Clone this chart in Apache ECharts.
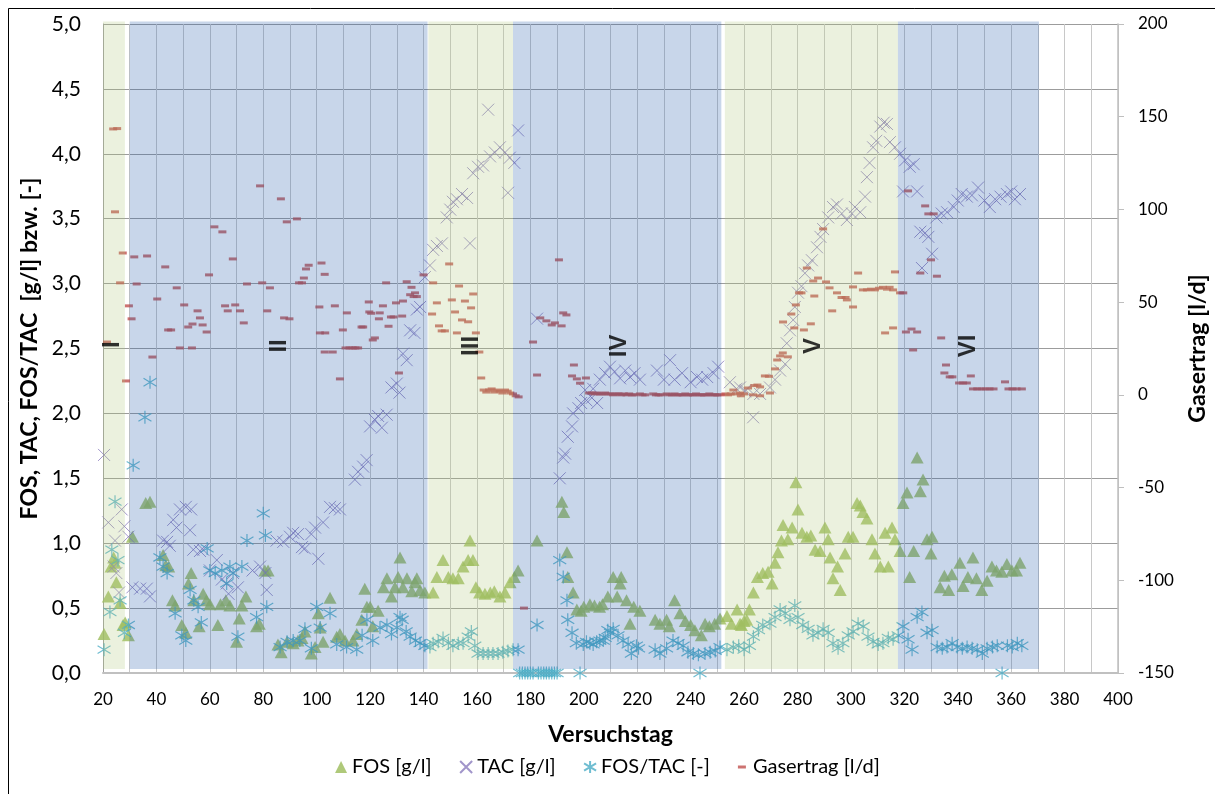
<!DOCTYPE html>
<html>
<head>
<meta charset="utf-8">
<script src="https://cdn.jsdelivr.net/npm/echarts@6/dist/echarts.min.js"></script>
<style>
  html, body { margin: 0; padding: 0; background: #fff; }
  #chart { width: 1215px; height: 794px; }
</style>
</head>
<body>
<div id="chart"></div>
<script>
var chart = echarts.init(document.getElementById('chart'));

// Versuchstag, Wert
var fos = [
  [20.4,0.30],[22,0.59],[23,0.82],[24,0.89],[24.5,0.85],[25,0.70],[26.4,0.54],[27.5,0.37],[28.3,0.39],[29.5,0.29],
  [31,1.05],[36,1.31],[37.6,1.32],[42.5,0.91],[43.5,0.83],[44.6,0.82],[46,0.56],[47,0.52],[49.5,0.37],[51,0.31],
  [52,0.69],[53,0.77],[54,0.56],[56,0.36],[57.5,0.61],[58.7,0.56],[60,0.53],[63,0.37],[64,0.53],[66,0.56],
  [67.5,0.52],[70,0.24],[71,0.42],[72,0.52],[73.5,0.59],[77.5,0.36],[78.5,0.38],[80.6,0.79],[81.8,0.79],[85.5,0.22],
  [86.7,0.16],[88.9,0.24],[91.2,0.23],[93,0.25],[94.5,0.27],[95.6,0.32],[98,0.15],[99.4,0.20],[100.6,0.46],[101.3,0.35],
  [102.4,0.24],[105,0.58],[107.5,0.28],[108.7,0.30],[110.6,0.25],[113.6,0.25],[115,0.30],[116.9,0.41],[118,0.65],[118.8,0.51],
  [120,0.51],[121,0.36],[123,0.48],[125,0.66],[126.3,0.73],[128,0.59],[129.3,0.66],[130.5,0.74],[131.2,0.89],[132.3,0.66],
  [133.8,0.73],[135.6,0.63],[136.8,0.70],[137.5,0.73],[138.7,0.64],[140.5,0.62],[143.6,0.62],[145,0.74],[147.3,0.87],[149.3,0.74],
  [151,0.73],[153,0.73],[154.8,0.82],[156.7,0.87],[157.4,1.02],[158.5,0.87],[159.6,0.66],[161,0.62],[163,0.61],[165,0.62],
  [166.5,0.63],[168.6,0.59],[170.5,0.62],[172.4,0.70],[174,0.74],[175.4,0.79],[182.5,1.02],[191.8,1.32],[192.5,1.24],[193.7,0.93],
  [194,0.74],[196,0.62],[197.4,0.49],[199,0.48],[200,0.51],[202.3,0.53],[204,0.52],[205.9,0.51],[207,0.53],[209,0.59],
  [211,0.74],[212.5,0.59],[213.6,0.69],[214,0.74],[216,0.56],[217.3,0.38],[218.7,0.51],[221,0.48],[226.7,0.41],[228.5,0.38],
  [231,0.41],[232,0.36],[234,0.56],[236,0.46],[238,0.40],[240,0.37],[241.6,0.33],[244,0.29],[245.4,0.38],[247,0.36],
  [249,0.38],[251,0.42],[253.6,0.44],[255.3,0.38],[257.4,0.49],[258.5,0.38],[259,0.37],[260,0.40],[261,0.41],[262,0.49],
  [263.5,0.62],[265,0.74],[267,0.77],[269,0.78],[270.5,0.69],[271.6,0.85],[272.7,0.93],[274,1.02],[274.6,1.14],[276.4,1.03],
  [278,1.12],[279.4,1.47],[280.2,1.26],[281.7,1.08],[283.5,1.05],[285,1.06],[286.6,0.95],[288.5,0.94],[290.3,1.12],[291.5,1.03],
  [292.2,0.89],[293.3,0.73],[295,0.82],[296,0.64],[297.8,0.92],[299,1.05],[300.8,1.05],[302.3,1.31],[303.5,1.29],[304.5,1.24],
  [306,1.19],[307.9,1.03],[309,0.92],[311,0.82],[312.8,1.08],[314,0.82],[315.4,1.12],[316.5,1.03],[318.4,0.94],[319.5,1.31],
  [321,1.39],[322,0.74],[323.5,0.94],[324.8,1.66],[326,1.40],[327,1.49],[328.5,1.03],[330,0.92],[330.4,1.05],[333.4,0.66],
  [335,0.75],[336.6,0.64],[337.8,0.76],[340.8,0.85],[342,0.67],[343.8,0.74],[345.7,0.89],[347,0.73],[349,0.64],[351,0.71],
  [352.8,0.82],[354.5,0.79],[356.5,0.78],[358.4,0.84],[360.3,0.79],[362,0.79],[363.3,0.85]
];

var tac = [
  [20.4,1.68],[22,1.16],[24,0.82],[24.5,1.02],[25,0.77],[26,0.62],[27,1.26],[28,1.13],[29.5,1.05],[31,0.66],
  [33.9,0.65],[36.4,0.65],[37.6,0.59],[42.5,1.02],[44,1.01],[45,0.98],[46.3,1.18],[47.5,1.12],[48.8,1.26],[51,1.28],
  [52.6,1.10],[53,1.26],[53.8,0.95],[56.3,0.94],[57.5,0.95],[60,0.79],[62.6,0.87],[64.5,0.72],[66.3,0.69],[67,0.61],
  [68.7,0.77],[70.5,0.66],[76,0.79],[78.8,0.82],[80.8,0.77],[81.3,0.64],[85,1.02],[87.5,1.01],[90,1.05],[91.2,1.08],
  [93,1.07],[94.5,0.97],[95.6,0.96],[98,1.07],[99.4,1.12],[100.6,0.88],[102.4,1.16],[105,1.28],[106.8,1.27],[108.7,1.26],
  [114.3,1.49],[115.5,1.55],[117.4,1.59],[118.7,1.64],[120,1.90],[121.8,1.95],[123,1.98],[124.4,1.89],[126.2,1.99],[128,2.20],
  [130,2.23],[131,2.16],[132.3,2.46],[133.7,2.41],[135,2.64],[136.6,2.62],[137.5,2.80],[138.7,2.82],[140.5,3.05],[142.4,3.14],
  [143.6,3.26],[145,3.29],[146.9,3.31],[148.7,3.51],[150,3.57],[151,3.63],[152.5,3.65],[154.4,3.69],[156.3,3.66],[157.4,3.31],
  [158.6,3.85],[160.4,3.90],[162.3,3.91],[164.2,4.34],[164.9,3.98],[166.7,4.01],[168.6,4.05],[170.5,4.01],[171.6,3.70],[172.3,3.97],
  [174,3.93],[175.4,4.18],[182.5,2.73],[191,1.50],[192.3,1.66],[193,1.69],[194,1.82],[195.6,1.90],[196,2.00],[198,2.04],
  [199,2.08],[200.5,2.18],[201,2.10],[203,2.12],[203.5,2.19],[205,2.08],[206,2.26],[208,2.31],[209.8,2.36],[211.5,2.32],
  [213.6,2.27],[215.5,2.33],[217.3,2.28],[219,2.31],[221,2.26],[227.4,2.33],[230,2.26],[232.3,2.41],[234,2.26],[236.8,2.31],
  [240,2.24],[242.4,2.28],[244.3,2.26],[246.2,2.28],[248.6,2.31],[250.3,2.36],[254.7,2.24],[257.2,2.19],[258.5,2.20],[260.4,2.17],
  [260.6,2.18],[263.4,1.97],[263.5,2.15],[266,2.15],[269.7,2.20],[271.6,2.26],[273.5,2.33],[275.4,2.38],[276,2.54],[277.2,2.64],
  [278.4,2.72],[279,2.82],[280.2,2.93],[281.5,2.98],[282.8,3.08],[284,3.14],[285.4,3.18],[287.3,3.28],[288.6,3.36],[289.6,3.42],
  [291.5,3.51],[293.3,3.59],[294.8,3.61],[296.6,3.54],[298.5,3.49],[300.4,3.54],[301.5,3.59],[303.5,3.55],[305.3,3.67],[306,3.82],
  [307,3.93],[308.3,4.05],[309.5,4.10],[311,4.21],[312.3,4.24],[313.5,4.23],[314.6,4.09],[316.5,4.05],[318.4,4.00],[319.5,3.71],
  [320.3,3.95],[322,3.90],[323.5,3.92],[324.8,3.71],[326,3.40],[326.6,3.12],[327.8,3.39],[329,3.36],[330.4,3.23],[332,3.51],
  [334,3.54],[336,3.55],[338.5,3.59],[340,3.64],[341.5,3.69],[343.4,3.67],[345.3,3.68],[347.6,3.74],[350,3.64],[352,3.59],
  [354,3.65],[356,3.67],[358.4,3.69],[360,3.71],[361.4,3.65],[363.3,3.69]
];

var fosTac = [
  [20.4,0.18],[22.6,0.47],[23.3,0.95],[24.5,1.32],[25.6,0.87],[26.4,0.56],[28,0.31],[29.5,0.37],[31.3,1.60],[35.7,1.97],
  [37.6,2.24],[41.3,0.89],[42.5,0.82],[44,0.77],[47,0.46],[49.5,0.29],[51,0.25],[52.6,0.64],[54,0.56],[55.6,0.51],
  [56.8,0.39],[59,0.96],[60,0.79],[62,0.77],[64.5,0.79],[66.3,0.69],[67.5,0.82],[68.7,0.77],[70.5,0.28],[72,0.82],
  [73.9,1.02],[77.5,0.43],[80,1.23],[80.8,1.06],[81.3,0.51],[86.3,0.20],[88.9,0.24],[91.2,0.25],[93.7,0.25],[95.6,0.34],
  [98,0.19],[100,0.51],[101.3,0.35],[105,0.46],[107.5,0.22],[111.2,0.20],[115,0.18],[117,0.29],[118.8,0.41],[121,0.25],
  [123.7,0.35],[126.3,0.37],[128,0.30],[130,0.35],[131.2,0.43],[132,0.41],[133.5,0.32],[135,0.28],[137,0.25],[138.7,0.23],
  [140.5,0.21],[142.4,0.20],[143.6,0.23],[145.5,0.24],[147.3,0.27],[149.3,0.23],[151,0.21],[153,0.23],[154.8,0.23],[156.7,0.28],
  [157.9,0.32],[159.2,0.21],[160.4,0.15],[162.3,0.15],[164.2,0.15],[166,0.15],[167.9,0.15],[169.7,0.16],[171.6,0.17],[173.5,0.18],
  [175.4,0.18],[176,0],[177,0],[178,0],[179,0],[180,0],[181,0],[182.5,0.37],[183,0],[184,0],
  [185,0],[186,0],[187,0],[188,0],[189,0],[190,0],[191,0.87],[192.3,0.74],[193.7,0.56],[194,0.41],
  [195.6,0.31],[197.2,0.23],[198.6,0],[199.8,0.22],[201,0.24],[202.3,0.23],[203.5,0.22],[204.8,0.24],[206,0.25],[207.3,0.25],
  [208,0.27],[209,0.33],[210,0.31],[211,0.34],[212.8,0.29],[214.7,0.25],[216.6,0.22],[217.8,0.15],[219.7,0.21],[220.5,0.19],
  [226.7,0.18],[228.5,0.15],[231,0.19],[233.4,0.25],[235.3,0.23],[237.2,0.21],[239,0.16],[241,0.15],[242.9,0.14],[243.5,0],
  [245.4,0.15],[247.3,0.16],[249.2,0.17],[251,0.20],[253.6,0.18],[256,0.20],[258,0.21],[260,0.18],[262,0.21],[263.5,0.28],
  [265.4,0.33],[267,0.37],[269.7,0.38],[271.6,0.43],[273.5,0.49],[275.4,0.46],[277.2,0.41],[279,0.52],[280.2,0.43],[282,0.37],
  [284,0.34],[285.8,0.29],[287.7,0.31],[289.6,0.34],[291.5,0.31],[293.3,0.23],[295.2,0.19],[297,0.23],[299,0.29],[300.8,0.32],
  [302.7,0.38],[304.6,0.36],[306.4,0.28],[308.3,0.24],[310.2,0.22],[312,0.23],[314,0.27],[315.8,0.26],[317.7,0.29],[319.5,0.36],
  [321.4,0.26],[322.9,0.18],[324.8,0.43],[326.6,0.47],[328.5,0.31],[330.4,0.33],[332.3,0.20],[334.2,0.19],[336,0.20],[337.9,0.23],
  [339.8,0.20],[341.7,0.19],[343.5,0.20],[345.4,0.19],[347.3,0.18],[349.2,0.15],[351,0.19],[353,0.20],[354.8,0.21],[356.6,0],
  [358.6,0.21],[360.4,0.20],[362.3,0.23],[364,0.21]
];

var gas = [
  [21.5,28.5],[23.8,143.4],[25.3,143.6],[24.5,98.7],[26.4,60.4],[27.4,76.5],[28.6,7.5],[29.7,48],[30.7,41],[31.7,74.4],
  [32.6,59.8],[36.5,74.9],[38.5,20.4],[40.3,51.7],[43.3,69],[44.4,35],[45.5,35],[47.6,57.7],[48.8,25.3],[50.4,48.5],
  [51.9,36.6],[53.3,25.3],[53.5,38.2],[55.4,45.3],[56.3,41.5],[57.3,37.7],[58.8,33.9],[59.7,64.7],[61.7,90.6],[64.7,87.9],
  [65.7,48],[66.7,45.3],[68.6,73.3],[69.5,48.5],[71.3,45.3],[72.7,38.8],[73.9,59.8],[78.8,112.7],[79.6,60.4],[81.5,45.3],
  [82.5,57.7],[86.6,105.7],[87.8,41.5],[88.8,93.3],[89.8,41],[92.6,94.9],[93.4,60.4],[94.5,60.4],[95.2,63],[96,67.9],
  [97,69.9],[101,47.4],[101.2,33.4],[101.8,71.1],[103,65],[103,23.1],[103.2,33.4],[106,23.1],[106.8,48],[108.7,8.6],
  [109.8,35],[110.8,25.3],[111.3,44.2],[112.3,25.3],[113.5,25.3],[114.5,25.3],[115.5,25.3],[116.8,36.6],[117.4,36.6],[119.5,50.1],
  [119.7,44.7],[120.4,44],[121,29.6],[121.8,30.7],[123.3,41],[123.6,44.2],[124.8,48],[126,60.4],[126.9,37],[127.8,42],
  [128.8,42],[129.7,49.6],[130.8,11.8],[132,42.5],[132.3,50.6],[133.7,61],[135,54],[135.5,58],[136.3,53],[137.5,53],
  [136.8,55],[140,64.7],[143.2,43.6],[143.6,60.4],[145,49.6],[145.8,37.2],[146.8,34.5],[148,34.5],[149.6,70.6],[150.6,51.2],
  [151.8,44.7],[152.5,33.4],[153.3,58.7],[154.4,40.4],[155.5,50.6],[156.7,39.4],[157.8,46.9],[158.6,54.4],[159.6,33.4],[160.9,23.1],
  [161.6,9.1],[162.5,2.6],[163.5,1.5],[164.5,2.6],[165.5,3.2],[166.5,1.5],[167.5,2.6],[168.5,2.0],[169.5,1.0],[170.5,2.6],
  [171.5,2.0],[172.5,1.0],[173.5,0.5],[174.5,-0.5],[175.6,-1.1],[177.6,-115],[181,28.5],[182.5,10.7],[183.7,41.5],[186,39.9],
  [188,37.7],[189.2,38.8],[190.7,72.8],[191.7,37.2],[192.3,44.2],[193.5,43.1],[195.6,10.2],[196.3,16.1],[197.4,8.6],[198.6,6.3],
  [200.8,9.1],[202,1],[203,1],[204,0.5],[205,1],[206,0.5],[207,0.5],[208,1],[209,0.5],[210,0.5],
  [211,0],[212,0.5],[213,0.5],[214,0],[215,0.5],[216,0],[217,0.5],[218,0],[219,0],[221,0.5],
  [222,0],[223,0],[226,0.5],[227,0],[228,0],[229,0],[231,0.5],[232,0],[233,0],[234,0.5],
  [235,0],[236,0],[237,0],[238,0.5],[239,0],[240,0],[241,0],[242,0.5],[243,0],[244,0],
  [245,0],[246,0],[247,0.5],[248,0],[249,0],[250,0],[251,0],[253,0.5],[254,0],[255,0.5],
  [256,2.6],[257,0.5],[258.5,1],[258.8,-0.5],[260,0.5],[261.5,3.7],[263.4,0],[263.8,5],[265,5.3],[266,-0.5],
  [266,4.3],[267.8,10.2],[269.3,10],[269.7,1],[271.6,14],[272.4,18.8],[273.5,21],[274.5,22.6],[274.6,39.3],[276.4,20.5],
  [277.7,43.6],[278.8,36.1],[279.4,48.5],[280.6,55],[281.5,55],[282.4,35],[283.5,68.4],[285,38.3],[285.9,61.4],[286.3,53.3],
  [287.7,63],[289.6,89.5],[290.7,60.9],[292,57.7],[293,45.3],[294.8,55],[296.5,52.5],[298,52.5],[298.5,51.2],[300.8,47.4],
  [300.8,58.2],[302.7,65.7],[304.5,56.6],[306,56.6],[307.5,57],[309,56.6],[310.5,57.5],[312,58],[313.5,57],[314.5,58],
  [315.8,56.6],[316.5,66.3],[312.8,33.4],[315.8,36.1],[318.4,55],[319.6,55],[320.6,33.9],[321.4,110],[322.7,35.5],[323.3,24.2],
  [324.8,33.9],[326,65.7],[327.8,101.9],[329,97.6],[330,72.8],[331,97.6],[332.2,64],[333.8,30.7],[335,11.8],[335.6,16.1],
  [337,9.7],[338,9.7],[340.5,6.4],[342,6.4],[343.4,6.4],[344.9,10.2],[345.7,3.2],[347.3,3.2],[348.8,3.2],[350.4,3.2],
  [351.9,3.2],[353.4,3.2],[357.7,7],[359,3.2],[360.5,3.2],[362,3.2],[364,3.2]
];

// Versuchsphasen: Beginn, Ende, Farbe (g = gruen, b = blau)
var phases = [
  [20, 28.2, 'g'], [30, 141.5, 'b'], [141.8, 173.5, 'g'],
  [173.5, 251.5, 'b'], [252.8, 317.6, 'g'], [317.6, 370.4, 'b']
];
var phaseLabels = [
  ['I', 23.4, 2.53], ['II', 85.9, 2.52], ['III', 158, 2.52],
  ['IV', 213.5, 2.52], ['V', 285.8, 2.52], ['VI', 343.8, 2.52]
];

var font = 'Lato, "Liberation Sans", sans-serif';
var fmtComma = function (v) { return v.toFixed(1).replace('.', ','); };

option = {
  animation: false,
  textStyle: { fontFamily: font, color: '#000' },
  graphic: [{
    type: 'rect', silent: true,
    shape: { x: 8.5, y: 8.5, width: 1400, height: 1000 },
    style: { fill: 'none', stroke: '#000', lineWidth: 1 }
  }],
  grid: { left: 103, right: 97, top: 24, bottom: 121, outerBoundsMode: 'none', containLabel: false },
  legend: {
    bottom: 12,
    left: 'center',
    itemGap: 26,
    itemWidth: 12,
    itemHeight: 12,
    textStyle: { fontSize: 20, fontFamily: font, color: '#000' },
    data: ['FOS [g/l]', 'TAC [g/l]', 'FOS/TAC [-]', 'Gasertrag [l/d]']
  },
  xAxis: {
    type: 'value',
    min: 20, max: 400, interval: 10,
    name: 'Versuchstag',
    nameLocation: 'middle',
    nameGap: 50,
    nameTextStyle: { fontSize: 23, fontWeight: 'bold', fontFamily: font },
    axisLine: { lineStyle: { color: '#c0c0c0', width: 2 } },
    axisTick: { show: false },
    axisLabel: {
      fontSize: 17, margin: 18, color: '#000',
      formatter: function (v) { return v % 20 === 0 ? String(v) : ''; }
    },
    splitLine: { show: true, lineStyle: { color: '#c8c8c8', width: 1 } }
  },
  yAxis: [{
    type: 'value',
    min: 0, max: 5, interval: 0.5,
    name: 'FOS, TAC, FOS/TAC  [g/l] bzw. [-]',
    nameLocation: 'middle',
    nameRotate: 90,
    nameGap: 60,
    nameTextStyle: { fontSize: 23, fontWeight: 'bold', fontFamily: font },
    axisLine: { show: true, lineStyle: { color: '#a0a0a0' } },
    axisTick: { show: false },
    axisLabel: { fontSize: 21, margin: 22, color: '#000', formatter: fmtComma },
    splitLine: { show: true, lineStyle: { color: '#9c9c9c', width: 1 } }
  }, {
    type: 'value',
    min: -150, max: 200, interval: 50,
    position: 'right',
    name: 'Gasertrag [l/d]',
    nameLocation: 'middle',
    nameRotate: 90,
    nameGap: 68,
    nameTextStyle: { fontSize: 23, fontWeight: 'bold', fontFamily: font },
    axisLine: { show: true, lineStyle: { color: '#bfbfbf', width: 1.5 } },
    axisTick: { show: true, length: 6, lineStyle: { color: '#bfbfbf' } },
    axisLabel: { fontSize: 17, margin: 20, color: '#000' },
    splitLine: { show: false }
  }],
  series: [{
    name: 'FOS [g/l]',
    type: 'scatter',
    z: 2,
    clip: false,
    symbol: 'triangle',
    symbolSize: [13, 12],
    itemStyle: { color: '#9bbb59' },
    data: fos
  }, {
    name: 'TAC [g/l]',
    type: 'scatter',
    z: 2,
    clip: false,
    symbol: 'path://M0,0L10,10M10,0L0,10',
    symbolSize: 12,
    itemStyle: { color: 'none', borderColor: '#8a7bbd', borderWidth: 1 },
    data: tac
  }, {
    name: 'FOS/TAC [-]',
    type: 'scatter',
    z: 2,
    clip: false,
    symbol: 'path://M5,0L5,10M0,2L10,8M0,8L10,2',
    symbolSize: 13,
    itemStyle: { color: 'none', borderColor: '#4bacc6', borderWidth: 1.2 },
    data: fosTac
  }, {
    name: 'Gasertrag [l/d]',
    type: 'scatter',
    yAxisIndex: 1,
    z: 2,
    clip: false,
    // leere Moves halten den Rahmen 12x12, damit der Strich auch in der Legende klein bleibt
    symbol: 'path://M0,0M12,12M2,4.5L10,4.5L10,7.5L2,7.5Z',
    symbolSize: 12,
    itemStyle: { color: '#c0504d' },
    data: gas
  }, {
    name: 'Phasen',
    type: 'custom',
    z: 3,
    silent: true,
    encode: { x: [0, 1] },
    renderItem: function (params, api) {
      var p1 = api.coord([api.value(0), 5.02]);
      var p2 = api.coord([api.value(1), 0.03]);
      var col = phases[params.dataIndex][2] === 'g' ? 'rgba(175,199,123,0.25)' : 'rgba(35,91,171,0.25)';
      return {
        type: 'rect',
        shape: { x: p1[0], y: p1[1], width: p2[0] - p1[0], height: p2[1] - p1[1] },
        style: { fill: col }
      };
    },
    data: phases
  }, {
    name: 'Phase',
    type: 'scatter',
    z: 4,
    silent: true,
    symbolSize: 0,
    label: {
      show: true,
      position: 'inside',
      rotate: 90,
      fontSize: 24,
      fontWeight: 'bold',
      fontFamily: '"Liberation Sans", sans-serif',
      color: '#000',
      formatter: function (p) { return p.data[0]; }
    },
    encode: { x: 1, y: 2 },
    data: phaseLabels
  }]
};

chart.setOption(option);
</script>
</body>
</html>
